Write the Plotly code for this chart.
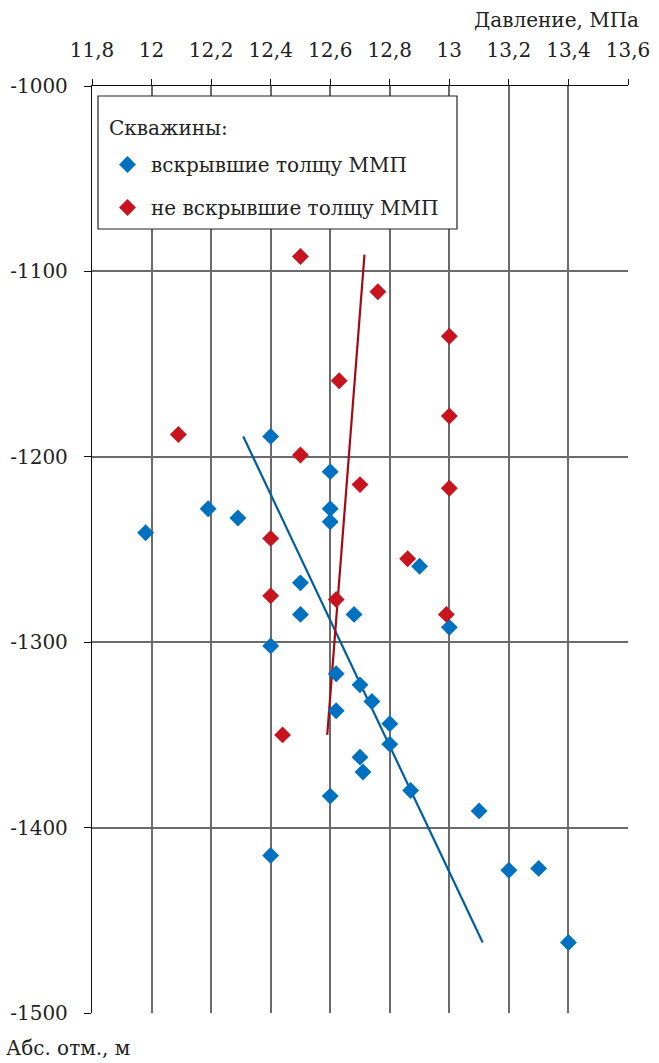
import plotly.graph_objects as go

# Pressure (MPa) and absolute elevation (m) of wells
opened_pressure = [11.98, 12.19, 12.29, 12.40, 12.60, 12.60, 12.60, 12.50, 12.50, 12.68,
                   12.40, 12.62, 12.70, 12.74, 12.80, 12.80, 12.70, 12.71, 12.60, 12.87,
                   12.62, 12.90, 13.00, 13.10, 13.20, 13.30, 13.40, 12.40]
opened_elev = [-1241, -1228, -1233, -1189, -1208, -1228, -1235, -1268, -1285, -1285,
               -1302, -1317, -1323, -1332, -1344, -1355, -1362, -1370, -1383, -1380,
               -1337, -1259, -1292, -1391, -1423, -1422, -1462, -1415]

closed_pressure = [12.50, 12.76, 13.00, 12.63, 13.00, 12.09, 12.50, 12.70, 13.00,
                   12.40, 12.86, 12.40, 12.62, 12.99, 12.44]
closed_elev = [-1092, -1111, -1135, -1159, -1178, -1188, -1199, -1215, -1217,
               -1244, -1255, -1275, -1277, -1285, -1350]

# Trend lines (end points)
opened_trend_p = [12.308, 13.112]
opened_trend_h = [-1189, -1462]
closed_trend_p = [12.59, 12.715]
closed_trend_h = [-1350, -1091]

x_ticks = [11.8, 12.0, 12.2, 12.4, 12.6, 12.8, 13.0, 13.2, 13.4, 13.6]
x_tick_text = ["11,8", "12", "12,2", "12,4", "12,6", "12,8", "13", "13,2", "13,4", "13,6"]
y_ticks = [-1000, -1100, -1200, -1300, -1400, -1500]
y_tick_text = ["-1000", "-1100", "-1200", "-1300", "-1400", "-1500"]

BLUE = "#0070C0"
RED = "#C8141E"
BLUE_LINE = "#005E9E"
RED_LINE = "#A50A14"
FONT = "DejaVu Serif"
FS = 20
TXT = "#222222"

fig = go.Figure()

fig.add_trace(go.Scatter(
    x=opened_trend_p, y=opened_trend_h, mode="lines",
    line=dict(color=BLUE_LINE, width=2.2), showlegend=False, hoverinfo="skip"))
fig.add_trace(go.Scatter(
    x=closed_trend_p, y=closed_trend_h, mode="lines",
    line=dict(color=RED_LINE, width=2.2), showlegend=False, hoverinfo="skip"))

fig.add_trace(go.Scatter(
    x=opened_pressure, y=opened_elev, mode="markers",
    name="вскрывшие толщу ММП", legendgroup="a",
    marker=dict(symbol="diamond", size=13, color=BLUE, line=dict(width=0))))
fig.add_trace(go.Scatter(
    x=closed_pressure, y=closed_elev, mode="markers",
    name="не вскрывшие толщу ММП", legendgroup="b",
    marker=dict(symbol="diamond", size=13, color=RED, line=dict(width=0))))

W, H = 659, 1063
L, R, T, B = 92, 31, 86, 50
pw, ph = W - L - R, H - T - B


def px(xp):
    return (xp - L) / pw


def py(yp):
    return (H - B - yp) / ph


# legend frame
fig.add_shape(type="rect", xref="paper", yref="paper",
              x0=px(98), x1=px(457), y0=py(229), y1=py(96),
              line=dict(color="#222222", width=1.2), fillcolor="white", layer="above")

fig.update_layout(
    width=W, height=H,
    margin=dict(l=L, r=R, t=T, b=B, autoexpand=False),
    paper_bgcolor="white", plot_bgcolor="white",
    font=dict(family=FONT, size=FS, color=TXT),
    showlegend=True,
    legend=dict(
        x=px(104), y=py(145), xanchor="left", yanchor="top",
        bgcolor="rgba(0,0,0,0)", borderwidth=0,
        font=dict(family=FONT, size=FS, color=TXT),
        tracegroupgap=14, itemwidth=37,
    ),
    xaxis=dict(
        side="top", range=[11.8, 13.6], tickvals=x_ticks, ticktext=x_tick_text,
        tickfont=dict(family=FONT, size=FS, color=TXT), automargin=False,
        showgrid=True, gridcolor="#6b6b6b", gridwidth=1.6,
        showline=True, linecolor="#111111", linewidth=1.3,
        ticks="outside", ticklen=6, tickcolor="#111111", tickwidth=1.3,
        zeroline=False, ticklabelstandoff=14,
    ),
    yaxis=dict(
        range=[-1500, -1000], tickvals=y_ticks, ticktext=y_tick_text,
        tickfont=dict(family=FONT, size=FS, color=TXT), automargin=False,
        showgrid=True, gridcolor="#6b6b6b", gridwidth=1.6,
        showline=True, linecolor="#111111", linewidth=1.3,
        ticks="outside", ticklen=7, tickcolor="#111111", tickwidth=1.3,
        zeroline=False, ticklabelstandoff=12,
    ),
    annotations=[
        dict(text="Скважины:", xref="paper", yref="paper",
             x=px(107), y=py(128), xanchor="left", yanchor="middle",
             showarrow=False, font=dict(family=FONT, size=FS, color=TXT)),
        dict(text="Давление, МПа", xref="paper", yref="paper",
             x=px(641), y=py(6), xanchor="right", yanchor="top",
             showarrow=False, font=dict(family=FONT, size=FS, color=TXT)),
        dict(text="Абс. отм., м", xref="paper", yref="paper",
             x=px(4), y=py(1034), xanchor="left", yanchor="top",
             showarrow=False, font=dict(family=FONT, size=FS, color=TXT)),
    ],
)

fig.write_html("out.html")
